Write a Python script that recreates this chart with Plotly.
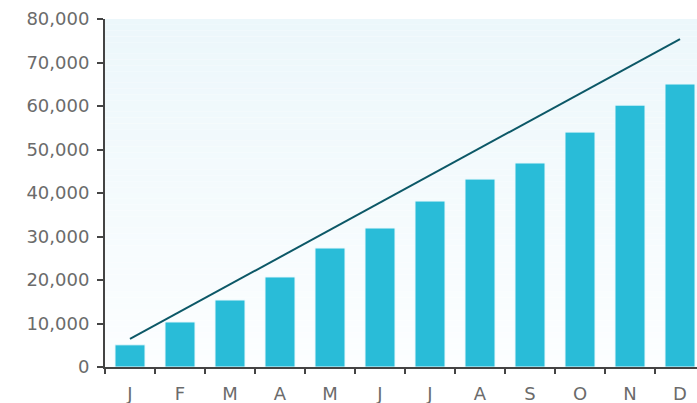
import plotly.graph_objects as go

months = ["J", "F", "M", "A", "M ", "J ", "J  ", "A ", "S", "O", "N", "D"]
tick_text = ["J", "F", "M", "A", "M", "J", "J", "A", "S", "O", "N", "D"]
sales = [5100, 10350, 15400, 20700, 27350, 31950, 38150, 43200, 46900, 54000, 60200, 65050]
trend_y = [6450, 75400]

W, H = 697, 403
L, T, B = 105, 19, 36
fig = go.Figure()

# gradient background bands
n = 60
c0 = (236, 247, 251)
c1 = (252, 254, 255)
for i in range(n):
    f = i / (n - 1)
    c = tuple(round(c0[k] + (c1[k] - c0[k]) * f) for k in range(3))
    fig.add_shape(type="rect", xref="paper", yref="paper", x0=0, x1=1,
                  y0=1 - (i + 1) / n, y1=1 - i / n, fillcolor="rgb(%d,%d,%d)" % c,
                  line_width=0, layer="below")

fig.add_trace(go.Bar(x=months, y=sales, marker=dict(color="#29bcd8",
                     line=dict(color="#e8f8fc", width=1)), width=0.6))
fig.add_trace(go.Scatter(x=[months[0], months[-1]], y=trend_y, mode="lines",
                         line=dict(color="#0c5867", width=2)))

plot_w = W - L
xr = [-0.5, -0.5 + plot_w / 50]
# invisible trace to hold the boundary-tick axis
fig.add_trace(go.Scatter(x=[-0.5], y=[0], xaxis="x2", mode="markers",
                         marker=dict(opacity=0), hoverinfo="skip"))
fig.update_layout(
    width=W, height=H, margin=dict(l=L, r=0, t=T, b=B, pad=0),
    paper_bgcolor="white", plot_bgcolor="rgba(0,0,0,0)", showlegend=False,
    font=dict(family="DejaVu Sans", size=18, color="#6b6b6b"),
    xaxis=dict(range=xr, tickmode="array",
               tickvals=list(range(12)), ticktext=tick_text, ticks="", showgrid=False,
               showline=True, linecolor="#444", linewidth=2, zeroline=False,
               categoryorder="array", categoryarray=months, ticklabelstandoff=9),
    xaxis2=dict(overlaying="x", anchor="y", side="bottom", range=xr, tickmode="array",
                tickvals=[i - 0.5 for i in range(13)], showticklabels=False,
                ticks="outside", ticklen=6, tickwidth=2, tickcolor="#444",
                showgrid=False, showline=False, zeroline=False),
    yaxis=dict(range=[0, 80000], tickvals=list(range(0, 80001, 10000)),
               tickformat=",", ticks="outside", ticklen=6, tickcolor="#444", tickwidth=2,
               showgrid=False, showline=True, linecolor="#444", linewidth=2,
               zeroline=False, ticklabelstandoff=4),
)
fig.write_html("out.html")
